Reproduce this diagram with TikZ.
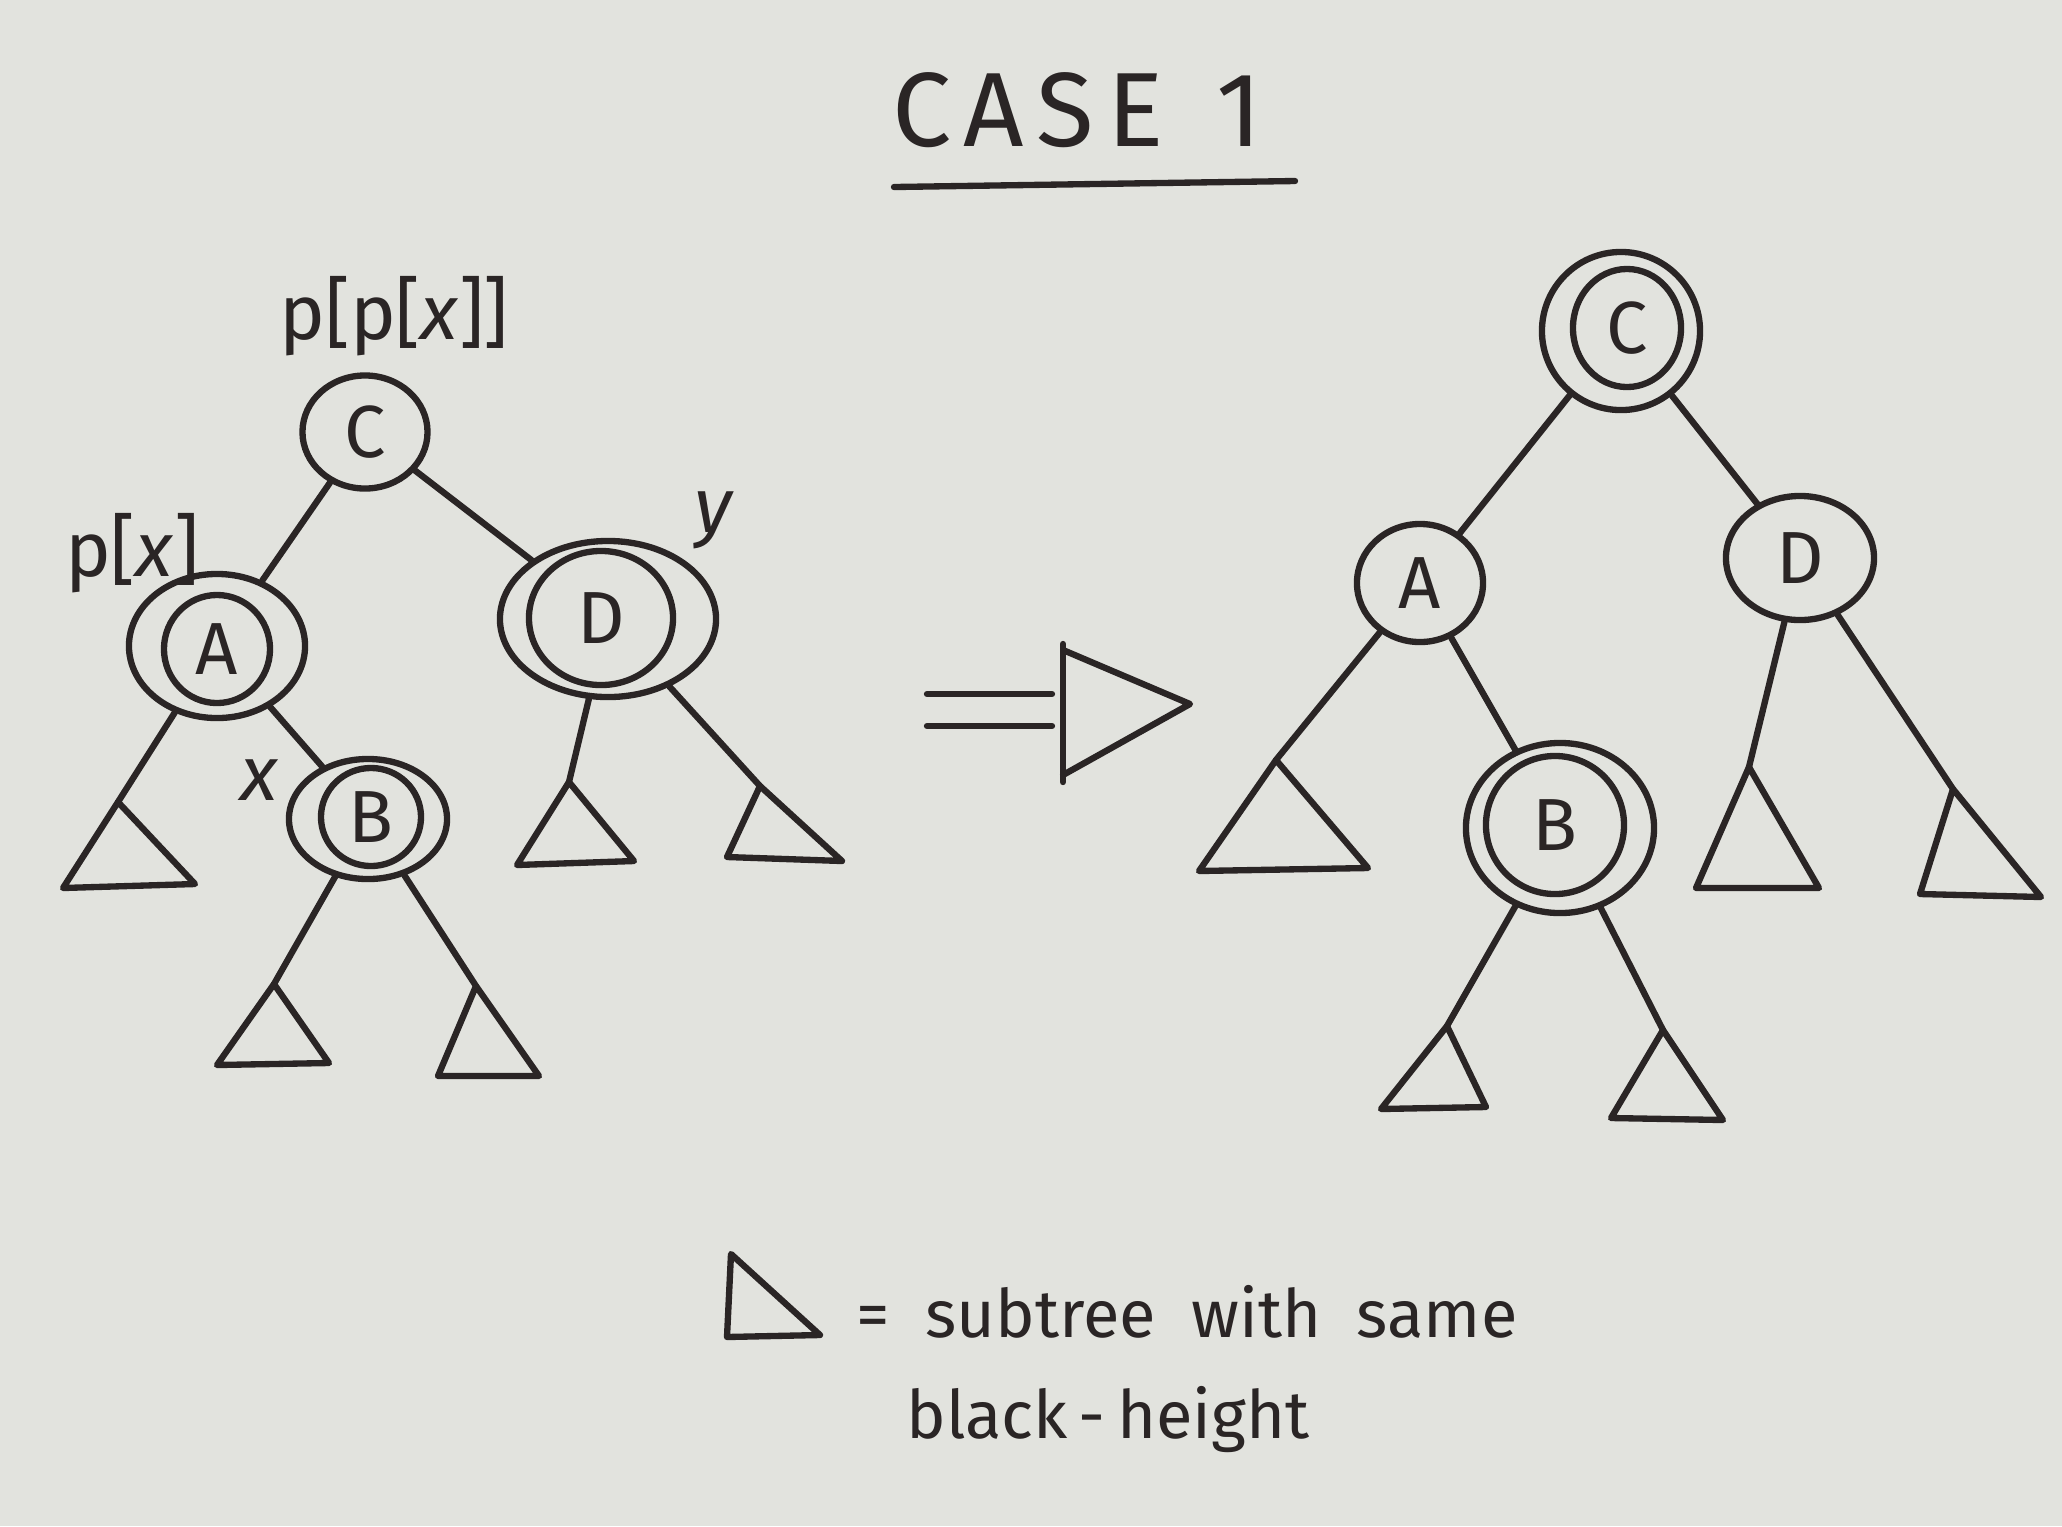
\documentclass[tikz,border=0pt]{standalone}
\usepackage{fontspec}
\setmainfont{Fira Sans}
\usetikzlibrary{shapes.geometric}
\definecolor{board}{RGB}{226,227,222}
\definecolor{ink}{RGB}{42,37,37}
\begin{document}
\begin{tikzpicture}[x=0.01cm,y=-0.01cm,
  nd/.style={ellipse, draw=ink, line width=1.8pt, inner sep=0pt, text=ink, font=\fontsize{21}{21}\selectfont},
  ring/.style={ellipse, draw=ink, line width=1.8pt, inner sep=0pt},
  edge/.style={draw=ink, line width=1.8pt, line cap=round},
  tri/.style={draw=ink, line width=1.8pt, line join=round, line cap=round},
  lbl/.style={text=ink, inner sep=0pt, font=\fontsize{22}{22}\selectfont},
  txt/.style={text=ink, inner sep=0pt, font=\fontsize{19}{19}\selectfont}]
\fill[board] (0,0) rectangle (2062,1526);
\useasboundingbox (0,0) rectangle (2062,1526);

% title
\node[text=ink, font=\fontsize{30}{30}\selectfont\addfontfeature{LetterSpace=12}] (title) at (1077,110) {CASE\hspace{0.5em}1};
\coordinate (ul1) at (894,187);
\coordinate (ul2) at (1295,181);
\draw[edge] (ul1) -- (ul2);

% ---------- left tree ----------
\node[nd, minimum width=1.25cm, minimum height=1.13cm] (LC) at (365,432) {C};
\node[ring, minimum width=1.76cm, minimum height=1.44cm] (LA) at (217,646) {};
\node[nd, minimum width=1.06cm, minimum height=1.08cm] (LAi) at (217,649) {A};
\node[ring, minimum width=2.16cm, minimum height=1.56cm] (LD) at (608,619) {};
\node[nd, minimum width=1.44cm, minimum height=1.34cm] (LDi) at (601,618) {D};
\node[ring, minimum width=1.58cm, minimum height=1.20cm] (LB) at (368,819) {};
\node[nd, minimum width=1.00cm, minimum height=0.98cm] (LBi) at (371,817) {B};

\node[lbl] (lpp) at (394,316) {p[p[\textit{x}]]};
\node[lbl] (lp) at (132,553) {p[\textit{x}]};
\node[lbl] (ly) at (714,520) {\textit{y}};
\node[lbl] (lx) at (260,780) {\textit{x}};

\coordinate (t1) at (118,802);
\coordinate (t2) at (274,984);
\coordinate (t3) at (476,986);
\coordinate (t4) at (569,782);
\coordinate (t5) at (760,786);
\draw[tri] (t1) -- (63,888) -- (195,884) -- cycle;
\draw[tri] (t2) -- (217,1065) -- (329,1063) -- cycle;
\draw[tri] (t3) -- (438,1076) -- (539,1076) -- cycle;
\draw[tri] (t4) -- (517,865) -- (634,861) -- cycle;
\draw[tri] (t5) -- (727,857) -- (842,861) -- cycle;

\draw[edge] (LC) -- (LA);
\draw[edge] (LC) -- (LD);
\draw[edge] (LA) -- (t1);
\draw[edge] (LA) -- (LB);
\draw[edge] (LB) -- (t2);
\draw[edge] (LB) -- (t3);
\draw[edge] (LD) -- (t4);
\draw[edge] (LD) -- (t5);

% ---------- arrow ----------
\draw[edge] (927,694) -- (1052,694);
\draw[edge] (927,726) -- (1052,726);
\draw[tri] (1063,644) -- (1063,782);
\draw[tri] (1063,650) -- (1190,704) -- (1063,775);

% ---------- right tree ----------
\node[ring, minimum width=1.58cm, minimum height=1.58cm] (RC) at (1621,331) {};
\node[nd, minimum width=1.08cm, minimum height=1.18cm] (RCi) at (1627,328) {C};
\node[nd, minimum width=1.26cm, minimum height=1.18cm] (RA) at (1420,583) {A};
\node[nd, minimum width=1.48cm, minimum height=1.24cm] (RD) at (1800,558) {D};
\node[ring, minimum width=1.88cm, minimum height=1.70cm] (RB) at (1560,828) {};
\node[nd, minimum width=1.38cm, minimum height=1.38cm] (RBi) at (1555,825) {B};

\coordinate (r1) at (1276,760);
\coordinate (r2) at (1447,1026);
\coordinate (r3) at (1663,1030);
\coordinate (r4) at (1749,767);
\coordinate (r5) at (1953,789);
\draw[tri] (r1) -- (1199,871) -- (1368,868) -- cycle;
\draw[tri] (r2) -- (1381,1109) -- (1486,1107) -- cycle;
\draw[tri] (r3) -- (1611,1118) -- (1723,1120) -- cycle;
\draw[tri] (r4) -- (1696,888) -- (1819,888) -- cycle;
\draw[tri] (r5) -- (1920,894) -- (2041,897) -- cycle;

\draw[edge] (RC) -- (RA);
\draw[edge] (RC) -- (RD);
\draw[edge] (RA) -- (r1);
\draw[edge] (RA) -- (RB);
\draw[edge] (RB) -- (r2);
\draw[edge] (RB) -- (r3);
\draw[edge] (RD) -- (r4);
\draw[edge] (RD) -- (r5);

% ---------- legend ----------
\draw[tri] (731,1254) -- (727,1337) -- (820,1335) -- cycle;
\node[txt, anchor=west] (leg1) at (856,1312) {=\ \ subtree\ \ with\ \ same};
\node[txt] (leg2) at (1108,1420) {black\,-\,height};
\end{tikzpicture}
\end{document}
